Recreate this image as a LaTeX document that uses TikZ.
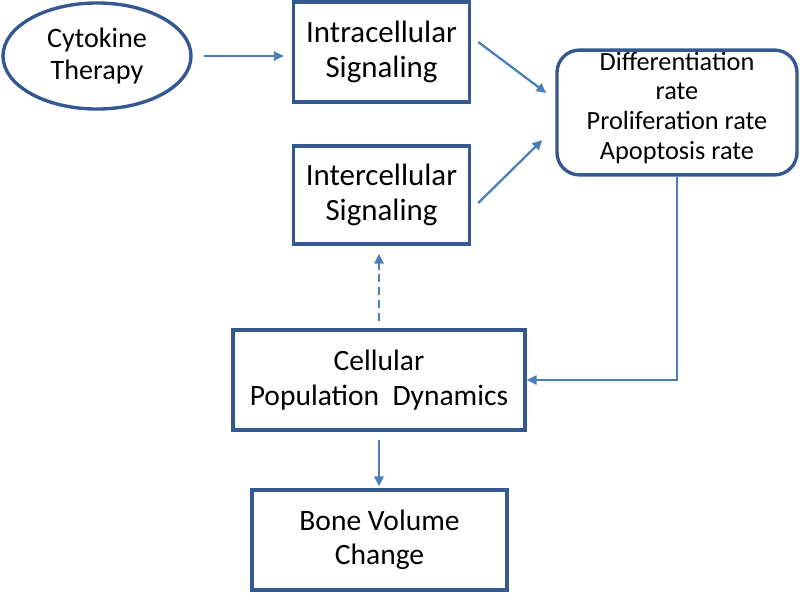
\documentclass[tikz,border=0pt]{standalone}
\usepackage{fontspec}
\setmainfont{Carlito}
\usepackage{tikz}
\usetikzlibrary{arrows.meta,shapes.geometric}

\definecolor{framecol}{RGB}{52,88,146}
\definecolor{flowcol}{RGB}{74,126,187}

\begin{document}
\begin{tikzpicture}
	[x=0.025cm,y=-0.025cm,
	 every node/.style={font=\fontsize{21}{24.5}\selectfont,align=center},
	 box/.style={draw=framecol,line width=2.4pt,fill=white,inner sep=0pt},
	 oval/.style={box,ellipse,font=\fontsize{20}{23}\selectfont},
	 ratebox/.style={box,rounded corners=16pt},
	 flow/.style={draw=flowcol,line width=1.6pt,-{Triangle[length=7pt,width=6.5pt]}}]
\useasboundingbox (0,0) rectangle (800,592);
% boxes
\node[oval,minimum width=4.7cm,minimum height=2.65cm] (therapy) at (97,56) {Cytokine\\Therapy};
\node[box,minimum width=4.4cm,minimum height=2.5cm,font=\fontsize{22}{25}\selectfont] (intra) at (381.5,52) {Intracellular\\Signaling};
\node[box,minimum width=4.4cm,minimum height=2.45cm,font=\fontsize{22}{25}\selectfont] (inter) at (381.5,195) {Intercellular\\Signaling};
\node[ratebox,minimum width=6cm,minimum height=3.12cm] (rates) at (677,112.5) {};
\node[font=\fontsize{18.7}{21.3}\selectfont] (ratetext) at (677,108) {Differentiation\\rate\\Proliferation rate\\Apoptosis rate};
\node[box,minimum width=7.3cm,minimum height=2.5cm] (cellpop) at (379,380) {Cellular\\Population~~Dynamics};
\node[box,minimum width=6.37cm,minimum height=2.5cm] (bone) at (379.5,540) {Bone Volume\\Change};
% connectors
\draw[flow,shorten <=7.8pt,shorten >=5.7pt] (therapy.east) -- (therapy.east -| intra.west);
\draw[flow] ([shift={(7,-10)}]intra.east) -- ([shift={(-9,-19.5)}]rates.west);
\draw[flow] ([shift={(7,8)}]inter.east) -- ([shift={(-13,27.5)}]rates.west);
\draw[flow] (rates.south) |- (cellpop.east);
\draw[flow,dash pattern=on 5.7pt off 3.5pt,shorten <=5pt,shorten >=5.7pt] (cellpop.north) -- (cellpop.north |- inter.south);
\draw[flow,shorten <=5.7pt,shorten >=1.4pt] (cellpop.south) -- (cellpop.south |- bone.north);
\end{tikzpicture}
\end{document}
